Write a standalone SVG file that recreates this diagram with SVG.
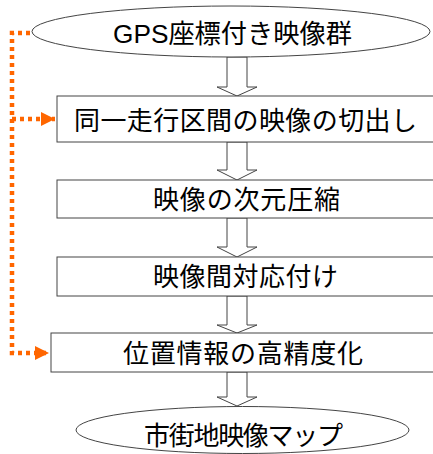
<svg xmlns="http://www.w3.org/2000/svg" width="433" height="454" viewBox="0 0 433 454">
<style>
.node{fill:#fff;stroke:#444;stroke-width:1}
.lbl{font-family:"Liberation Sans","Noto Sans CJK JP",sans-serif;font-size:26px;fill:#000}
.blk{fill:#fff;stroke:#444;stroke-width:1}
.dot{fill:none;stroke:#ff6600;stroke-width:4.5;stroke-dasharray:4 4}
</style>
<defs>
<marker id="oa" viewBox="0 0 14 14" refX="14" refY="7" markerWidth="14" markerHeight="14" markerUnits="userSpaceOnUse" orient="auto">
<path d="M0,0 L14,7 L0,14 Z" fill="#ff6600"/>
</marker>
</defs>
<g id="connectors">
<polygon class="blk" points="227,57 247,57 247,87 257,87 237,96 217,87 227,87"/>
<polygon class="blk" points="227,142 247,142 247,170 257,170 237,180 217,170 227,170"/>
<polygon class="blk" points="227,218 247,218 247,247 257,247 237,257 217,247 227,247"/>
<polygon class="blk" points="227,296 247,296 247,325 257,325 237,333 217,325 227,325"/>
<polygon class="blk" points="227,372 247,372 247,397 257,397 237,406 217,397 227,397"/>
<path class="dot" d="M30,33 H12 V353 H49" marker-end="url(#oa)"/>
<path class="dot" d="M12,119 H55" marker-end="url(#oa)"/>
</g>
<g id="n1">
<ellipse class="node" cx="231" cy="31.5" rx="199" ry="25.5"/>
<text class="lbl" x="113" y="43" textLength="239" lengthAdjust="spacingAndGlyphs">GPS座標付き映像群</text>
</g>
<g id="n2">
<rect class="node" x="57" y="96" width="390" height="46"/>
<text class="lbl" x="74" y="130" textLength="343" lengthAdjust="spacing">同一走行区間の映像の切出し</text>
</g>
<g id="n3">
<rect class="node" x="57" y="180" width="390" height="38"/>
<text class="lbl" x="153" y="209" textLength="187" lengthAdjust="spacing">映像の次元圧縮</text>
</g>
<g id="n4">
<rect class="node" x="57" y="257" width="390" height="39"/>
<text class="lbl" x="153" y="286" textLength="185" lengthAdjust="spacing">映像間対応付け</text>
</g>
<g id="n5">
<rect class="node" x="51" y="333" width="396" height="39"/>
<text class="lbl" x="123" y="363" textLength="240" lengthAdjust="spacing">位置情報の高精度化</text>
</g>
<g id="n6">
<ellipse class="node" cx="242.5" cy="430" rx="166.5" ry="23.5"/>
<text class="lbl" x="144" y="445" textLength="199" lengthAdjust="spacing">市街地映像マップ</text>
</g>
</svg>
